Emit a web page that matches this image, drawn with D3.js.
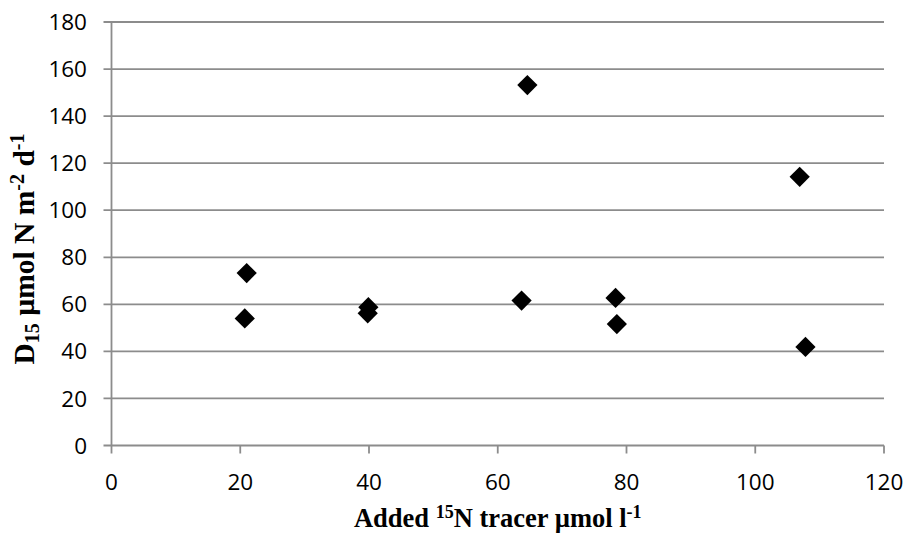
<!DOCTYPE html>
<html>
<head>
<meta charset="utf-8">
<script src="https://cdn.jsdelivr.net/npm/d3@7"></script>
<style>
  html, body { margin: 0; padding: 0; background: #fff; }
  svg { display: block; }
</style>
</head>
<body>
<svg id="chart" width="907" height="533"></svg>
<script>
// Added 15N tracer (µmol l-1) and D15 rate (µmol N m-2 d-1)
const tracerAdded = [20.7, 21.0, 39.8, 39.9, 63.7, 64.6, 78.3, 78.5, 106.9, 107.8];
const d15Rate     = [54.0, 73.3, 56.2, 58.8, 61.6, 153.2, 62.7, 51.6, 114.2, 41.9];
const xTicks = [0, 20, 40, 60, 80, 100, 120];
const yTicks = [0, 20, 40, 60, 80, 100, 120, 140, 160, 180];

const svg = d3.select("#chart");
const plotLeft = 111.5, plotRight = 884, plotTop = 22, plotBottom = 445.5;
const gridColor = "#8c8c8c";
const tickFont = "'Open Sans', sans-serif";

const x = d3.scaleLinear().domain([0, 120]).range([plotLeft, plotRight]);
const y = d3.scaleLinear().domain([0, 180]).range([plotBottom, plotTop]);

// horizontal gridlines, extended left of the axis as tick marks
svg.append("g")
  .selectAll("line")
  .data(yTicks)
  .join("line")
  .attr("x1", plotLeft - 8).attr("x2", plotRight)
  .attr("y1", d => y(d)).attr("y2", d => y(d))
  .attr("stroke", gridColor).attr("stroke-width", 1.8);

// y axis line
svg.append("line")
  .attr("x1", plotLeft).attr("x2", plotLeft)
  .attr("y1", plotTop).attr("y2", plotBottom)
  .attr("stroke", gridColor).attr("stroke-width", 1.8);

// x tick marks
svg.append("g")
  .selectAll("line")
  .data(xTicks)
  .join("line")
  .attr("x1", d => x(d)).attr("x2", d => x(d))
  .attr("y1", plotBottom).attr("y2", plotBottom + 8)
  .attr("stroke", gridColor).attr("stroke-width", 1.8);

// y tick labels
svg.append("g")
  .selectAll("text")
  .data(yTicks)
  .join("text")
  .attr("x", 87)
  .attr("y", d => y(d))
  .attr("dy", "0.36em")
  .attr("text-anchor", "end")
  .attr("font-family", tickFont)
  .attr("font-size", 22.5)
  .attr("fill", "#000")
  .text(d => d);

// x tick labels
svg.append("g")
  .selectAll("text")
  .data(xTicks)
  .join("text")
  .attr("x", d => x(d))
  .attr("y", 490)
  .attr("text-anchor", "middle")
  .attr("font-family", tickFont)
  .attr("font-size", 22.5)
  .attr("fill", "#000")
  .text(d => d);

// data points as diamonds
const diamond = d3.symbol().type(d3.symbolSquare).size(205);
svg.append("g")
  .selectAll("path")
  .data(tracerAdded.map((v, i) => [v, d15Rate[i]]))
  .join("path")
  .attr("d", diamond)
  .attr("transform", d => `translate(${x(d[0])},${y(d[1])}) rotate(45)`)
  .attr("fill", "#000");

// axis titles
const titleFont = "'Liberation Serif', 'Times New Roman', serif";
const xt = svg.append("text")
  .attr("x", (plotLeft + plotRight) / 2)
  .attr("y", 527)
  .attr("text-anchor", "middle")
  .attr("font-family", titleFont)
  .attr("font-weight", "bold")
  .attr("font-size", 26.5)
  .attr("fill", "#000");
xt.append("tspan").text("Added ");
xt.append("tspan").attr("font-size", 18).attr("dy", -9).text("15");
xt.append("tspan").attr("dy", 9).text("N tracer µmol l");
xt.append("tspan").attr("font-size", 18).attr("dy", -9).text("-1");

const yt = svg.append("text")
  .attr("transform", `translate(34,249) rotate(-90)`)
  .attr("text-anchor", "middle")
  .attr("font-family", titleFont)
  .attr("font-weight", "bold")
  .attr("font-size", 29.5)
  .attr("fill", "#000");
yt.append("tspan").text("D");
yt.append("tspan").attr("font-size", 20).attr("dy", 5).text("15");
yt.append("tspan").attr("dy", -5).text(" µmol N m");
yt.append("tspan").attr("font-size", 20).attr("dy", -10).text("-2");
yt.append("tspan").attr("dy", 10).text(" d");
yt.append("tspan").attr("font-size", 20).attr("dy", -10).text("-1");
</script>
</body>
</html>
